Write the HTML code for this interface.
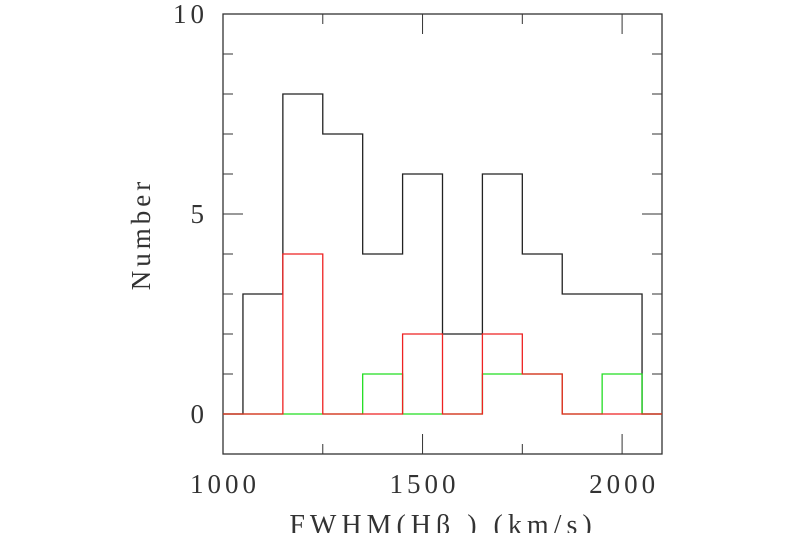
<!DOCTYPE html>
<html><head><meta charset="utf-8"><style>
html,body{margin:0;padding:0;background:#fff;width:800px;height:533px;overflow:hidden}
text{font-family:"Liberation Serif","DejaVu Serif",serif;fill:#333}
</style></head><body>
<svg id="chart" width="800" height="533" viewBox="0 0 800 533"></svg>
<script>
const binStarts=[1050,1150,1250,1350,1450,1550,1650,1750,1850,1950];
const binWidth=100;
const allCounts=[3,8,7,4,6,2,6,4,3,3];
const greenCounts=[0,0,0,1,0,0,1,1,0,1];
const redCounts=[0,4,0,0,2,0,2,1,0,0];
const xTicks=[1000,1500,2000];
const yTicks=[0,5,10];
const xMin=1000,xMax=2100,yMin=-1,yMax=10;
const L=223,R=662,T=14,B=454;
const X=v=>L+(v-xMin)/(xMax-xMin)*(R-L);
const Y=v=>B-(v-yMin)/(yMax-yMin)*(B-T);
const svg=document.getElementById('chart');
const NS='http://www.w3.org/2000/svg';
function mk(tag,attrs){const e=document.createElementNS(NS,tag);for(const k in attrs)e.setAttribute(k,attrs[k]);svg.appendChild(e);return e;}
const fr=mk('rect',{x:L,y:T,width:R-L,height:B-T,fill:'none',stroke:'#333','stroke-width':1.3});


for(let v=1000;v<=2100;v+=250){
  const len=(v%500===0)?20:10;
  const t1=mk('line',{x1:X(v),x2:X(v),y1:B,y2:B-len,stroke:'#333','stroke-width':1});
  
  
  const t2=mk('line',{x1:X(v),x2:X(v),y1:T,y2:T+len,stroke:'#333','stroke-width':1});
  
  
}
for(let v=0;v<=10;v+=1){
  const len=(v%5===0)?20:10;
  const t1=mk('line',{x1:L,x2:L+len,y1:Y(v),y2:Y(v),stroke:'#333','stroke-width':1});
  
  
  const t2=mk('line',{x1:R,x2:R-len,y1:Y(v),y2:Y(v),stroke:'#333','stroke-width':1});
  
  
}
xTicks.forEach(v=>{
  const t=mk('text',{x:X(v)+2,y:493,'text-anchor':'middle','font-size':27,'letter-spacing':4});
  t.textContent=v;
  
  
});
yTicks.forEach(v=>{
  const t=mk('text',{x:208,y:Y(v)+9,'text-anchor':'end','font-size':27,'letter-spacing':4});
  t.textContent=v;
  
  
});
const xt=mk('text',{x:443,y:534,'text-anchor':'middle','font-size':28,'letter-spacing':5});
xt.textContent='FWHM(Hβ ) (km/s)';


const yt=mk('text',{x:0,y:0,'text-anchor':'middle','font-size':27,'letter-spacing':4,transform:'translate(150,234) rotate(-90)'});
yt.textContent='Number';


function hist(counts,color,name){
  let d='M'+X(xMin)+','+Y(0)+' L'+X(binStarts[0])+','+Y(0);
  binStarts.forEach((s,i)=>{
    d+=' L'+X(s)+','+Y(counts[i])+' L'+X(s+binWidth)+','+Y(counts[i]);
  });
  const last=binStarts[binStarts.length-1]+binWidth;
  d+=' L'+X(last)+','+Y(0)+' L'+X(xMax)+','+Y(0);
  const p=mk('path',{d:d,fill:'none',stroke:color,'stroke-width':1.3});
  
  
}
hist(allCounts,'#222','histogram-all');
hist(greenCounts,'#22dd22','histogram-green');
hist(redCounts,'#ee2222','histogram-red');
</script>
</body></html>
